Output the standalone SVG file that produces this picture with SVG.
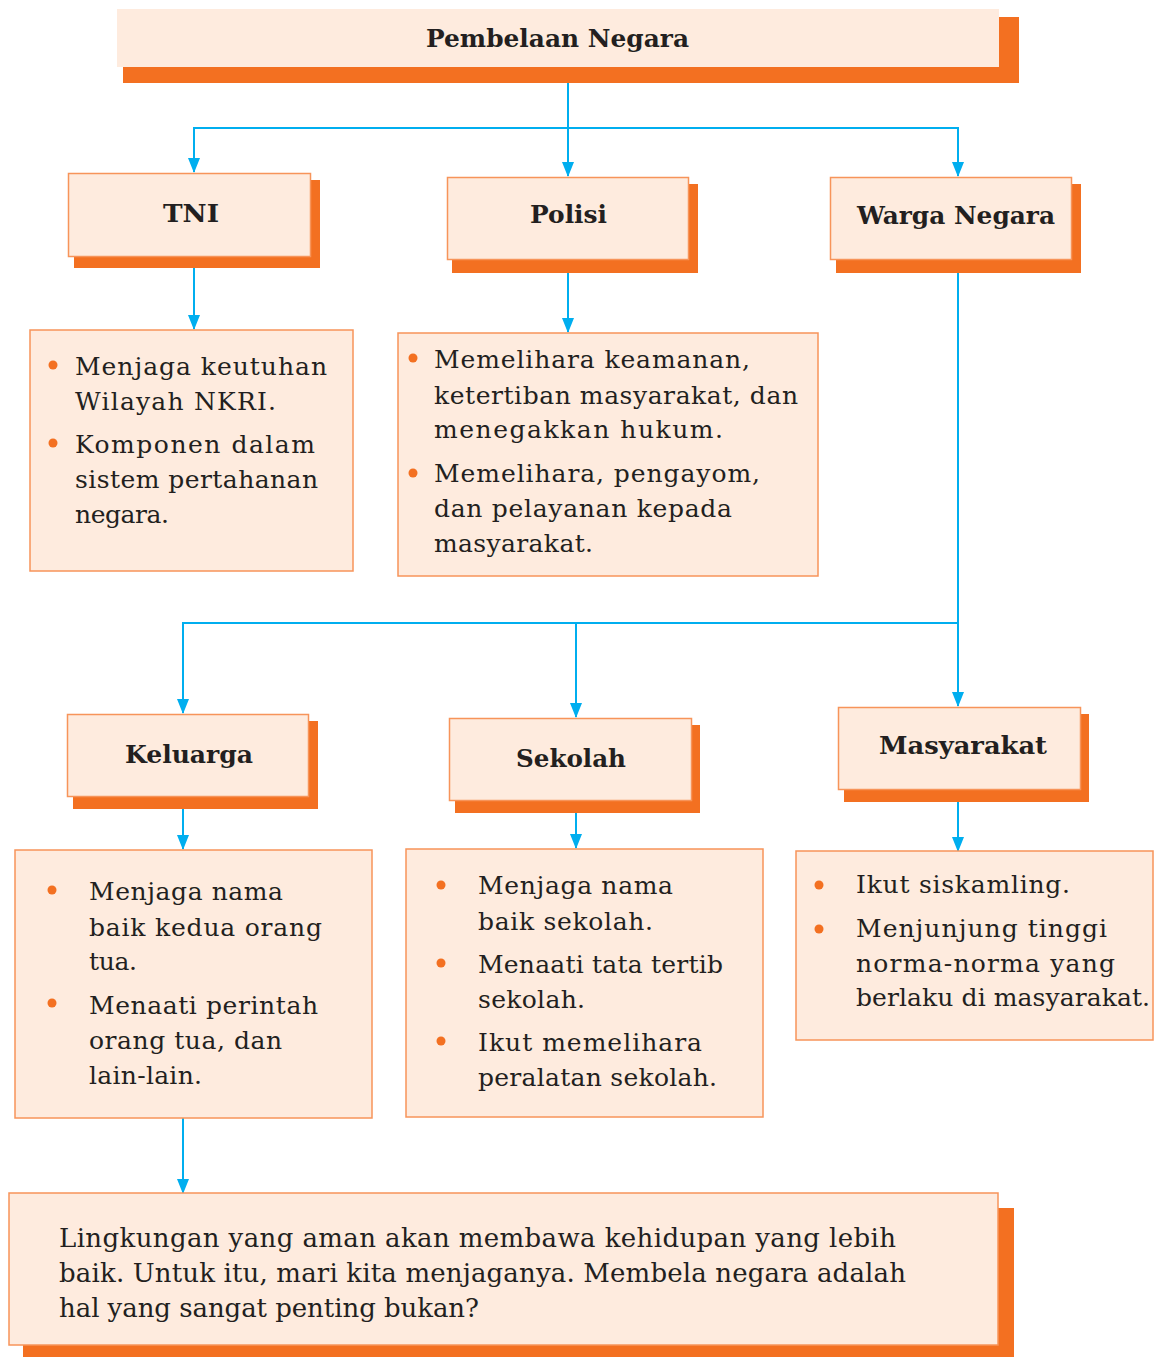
<svg xmlns="http://www.w3.org/2000/svg" width="1154" height="1357" viewBox="0 0 1154 1357">
<style>
.bg{fill:#ffffff}
.sh{fill:#F37021}
.hd{fill:#FEEBDE;stroke:#F7945A;stroke-width:1.5}
.top{fill:#FEEBDE}
.lst{fill:#FEEBDE;stroke:#F7945A;stroke-width:1.5}
.h{font-family:"DejaVu Serif",serif;font-weight:bold;font-size:25px;fill:#231F20}
.t{font-family:"DejaVu Serif",serif;font-size:25px;fill:#231F20}
.tb{font-family:"DejaVu Serif",serif;font-size:26px;fill:#231F20}
.b{fill:#F37021}
.c{fill:none;stroke:#00AEEF;stroke-width:2}
</style>
<defs>
<marker id="ah" viewBox="0 0 15 12" refX="14" refY="6" markerWidth="15" markerHeight="12" markerUnits="userSpaceOnUse" orient="auto-start-reverse">
<path d="M0,0 L15,6 L0,12 z" fill="#00AEEF"/>
</marker>
</defs>
<rect class="bg" x="0" y="0" width="1154" height="1357"/>

<g id="connectors">
<path class="c" d="M568,83 V176" marker-end="url(#ah)"/>
<path class="c" d="M194,172 V128 H958 V176" marker-start="url(#ah)" marker-end="url(#ah)"/>
<path class="c" d="M194,268 V329" marker-end="url(#ah)"/>
<path class="c" d="M568,273 V332" marker-end="url(#ah)"/>
<path class="c" d="M958,273 V706" marker-end="url(#ah)"/>
<path class="c" d="M958,623 H183 V713" marker-end="url(#ah)"/>
<path class="c" d="M576,623 V717" marker-end="url(#ah)"/>
<path class="c" d="M183,809 V849" marker-end="url(#ah)"/>
<path class="c" d="M576,813 V848" marker-end="url(#ah)"/>
<path class="c" d="M958,802 V851" marker-end="url(#ah)"/>
<path class="c" d="M183,1118 V1193" marker-end="url(#ah)"/>
</g>

<g id="pembelaan-negara">
<rect class="sh" x="123" y="17" width="896" height="66"/>
<rect class="top" x="117" y="9" width="882" height="58"/>
<text class="h" x="426" y="47" textLength="263" lengthAdjust="spacingAndGlyphs">Pembelaan Negara</text>
</g>

<g id="tni">
<rect class="sh" x="74" y="180" width="246" height="88"/>
<rect class="hd" x="68.5" y="173.5" width="242" height="83"/>
<text class="h" x="163" y="222" textLength="56" lengthAdjust="spacingAndGlyphs">TNI</text>
</g>

<g id="polisi">
<rect class="sh" x="452" y="184" width="246" height="89"/>
<rect class="hd" x="447.5" y="177.5" width="241" height="82"/>
<text class="h" x="530" y="223" textLength="77" lengthAdjust="spacingAndGlyphs">Polisi</text>
</g>

<g id="warga-negara">
<rect class="sh" x="836" y="184" width="245" height="89"/>
<rect class="hd" x="830.5" y="177.5" width="241" height="82"/>
<text class="h" x="857" y="224" textLength="198" lengthAdjust="spacingAndGlyphs">Warga Negara</text>
</g>

<g id="tni-tugas">
<rect class="lst" x="30" y="330" width="323" height="241"/>
<circle class="b" cx="53" cy="365" r="4.5"/>
<circle class="b" cx="53" cy="443" r="4.5"/>
<text class="t" x="75" y="375" textLength="252" lengthAdjust="spacing">Menjaga keutuhan</text>
<text class="t" x="75" y="410" textLength="201" lengthAdjust="spacing">Wilayah NKRI.</text>
<text class="t" x="75" y="453" textLength="240" lengthAdjust="spacing">Komponen dalam</text>
<text class="t" x="75" y="488" textLength="243" lengthAdjust="spacing">sistem pertahanan</text>
<text class="t" x="75" y="523" textLength="94" lengthAdjust="spacing">negara.</text>
</g>

<g id="polisi-tugas">
<rect class="lst" x="398" y="333" width="420" height="243"/>
<circle class="b" cx="413" cy="358" r="4.5"/>
<circle class="b" cx="413" cy="473" r="4.5"/>
<text class="t" x="434" y="368" textLength="316" lengthAdjust="spacing">Memelihara keamanan,</text>
<text class="t" x="434" y="404" textLength="364" lengthAdjust="spacing">ketertiban masyarakat, dan</text>
<text class="t" x="434" y="438" textLength="289" lengthAdjust="spacing">menegakkan hukum.</text>
<text class="t" x="434" y="482" textLength="326" lengthAdjust="spacing">Memelihara, pengayom,</text>
<text class="t" x="434" y="517" textLength="298" lengthAdjust="spacing">dan pelayanan kepada</text>
<text class="t" x="434" y="552" textLength="159" lengthAdjust="spacing">masyarakat.</text>
</g>

<g id="keluarga">
<rect class="sh" x="73" y="721" width="245" height="88"/>
<rect class="hd" x="67.5" y="714.5" width="241" height="82"/>
<text class="h" x="125" y="763" textLength="128" lengthAdjust="spacingAndGlyphs">Keluarga</text>
</g>

<g id="sekolah">
<rect class="sh" x="455" y="725" width="245" height="88"/>
<rect class="hd" x="449.5" y="718.5" width="242" height="82"/>
<text class="h" x="516" y="767" textLength="110" lengthAdjust="spacingAndGlyphs">Sekolah</text>
</g>

<g id="masyarakat">
<rect class="sh" x="844" y="714" width="245" height="88"/>
<rect class="hd" x="838.5" y="707.5" width="242" height="82"/>
<text class="h" x="879" y="754" textLength="168" lengthAdjust="spacingAndGlyphs">Masyarakat</text>
</g>

<g id="keluarga-tugas">
<rect class="lst" x="15" y="850" width="357" height="268"/>
<circle class="b" cx="52" cy="890" r="4.5"/>
<circle class="b" cx="52" cy="1003" r="4.5"/>
<text class="t" x="89" y="900" textLength="194" lengthAdjust="spacing">Menjaga nama</text>
<text class="t" x="89" y="936" textLength="233" lengthAdjust="spacing">baik kedua orang</text>
<text class="t" x="89" y="970" textLength="48" lengthAdjust="spacing">tua.</text>
<text class="t" x="89" y="1014" textLength="229" lengthAdjust="spacing">Menaati perintah</text>
<text class="t" x="89" y="1049" textLength="193" lengthAdjust="spacing">orang tua, dan</text>
<text class="t" x="89" y="1084" textLength="113" lengthAdjust="spacing">lain-lain.</text>
</g>

<g id="sekolah-tugas">
<rect class="lst" x="406" y="849" width="357" height="268"/>
<circle class="b" cx="441" cy="885" r="4.5"/>
<circle class="b" cx="441" cy="963" r="4.5"/>
<circle class="b" cx="441" cy="1041" r="4.5"/>
<text class="t" x="478" y="894" textLength="195" lengthAdjust="spacing">Menjaga nama</text>
<text class="t" x="478" y="930" textLength="175" lengthAdjust="spacing">baik sekolah.</text>
<text class="t" x="478" y="973" textLength="245" lengthAdjust="spacing">Menaati tata tertib</text>
<text class="t" x="478" y="1008" textLength="107" lengthAdjust="spacing">sekolah.</text>
<text class="t" x="478" y="1051" textLength="224" lengthAdjust="spacing">Ikut memelihara</text>
<text class="t" x="478" y="1086" textLength="239" lengthAdjust="spacing">peralatan sekolah.</text>
</g>

<g id="masyarakat-tugas">
<rect class="lst" x="796" y="851" width="357" height="189"/>
<circle class="b" cx="819" cy="885" r="4.5"/>
<circle class="b" cx="819" cy="929" r="4.5"/>
<text class="t" x="856" y="893" textLength="214" lengthAdjust="spacing">Ikut siskamling.</text>
<text class="t" x="856" y="937" textLength="251" lengthAdjust="spacing">Menjunjung tinggi</text>
<text class="t" x="856" y="972" textLength="259" lengthAdjust="spacing">norma-norma yang</text>
<text class="t" x="856" y="1006" textLength="294" lengthAdjust="spacing">berlaku di masyarakat.</text>
</g>

<g id="kesimpulan">
<rect class="sh" x="23" y="1208" width="991" height="149"/>
<rect class="lst" x="9" y="1193" width="989" height="152"/>
<text class="tb" x="59" y="1247" textLength="837" lengthAdjust="spacing">Lingkungan yang aman akan membawa kehidupan yang lebih</text>
<text class="tb" x="59" y="1282" textLength="847" lengthAdjust="spacing">baik. Untuk itu, mari kita menjaganya. Membela negara adalah</text>
<text class="tb" x="59" y="1317" textLength="420" lengthAdjust="spacing">hal yang sangat penting bukan?</text>
</g>
</svg>
